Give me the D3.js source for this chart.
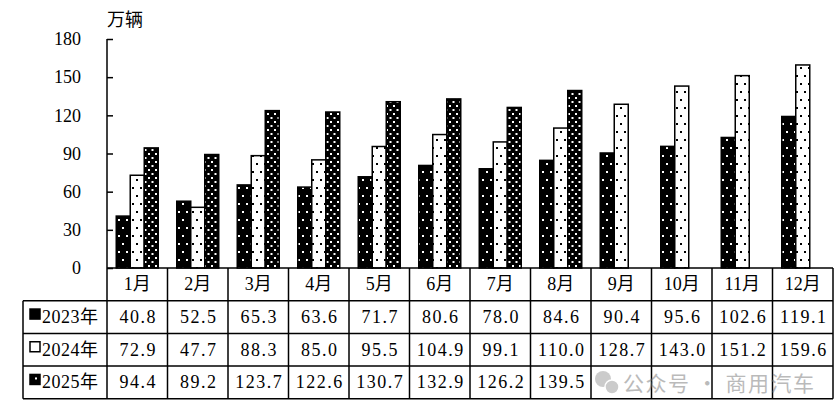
<!DOCTYPE html>
<html>
<head>
<meta charset="utf-8">
<script src="https://cdn.jsdelivr.net/npm/d3@7"></script>
<style>
  body { margin: 0; background: #fff; }
  svg text { font-family: "Liberation Serif", "Noto Sans CJK SC", serif; fill: #000; }
</style>
</head>
<body>
<div class="chart"></div>
<script>
const months = ["1月","2月","3月","4月","5月","6月","7月","8月","9月","10月","11月","12月"];
const seriesNames = ["2023年","2024年","2025年"];
const v2023 = [40.8,52.5,65.3,63.6,71.7,80.6,78.0,84.6,90.4,95.6,102.6,119.1];
const v2024 = [72.9,47.7,88.3,85.0,95.5,104.9,99.1,110.0,128.7,143.0,151.2,159.6];
const v2025 = [94.4,89.2,123.7,122.6,130.7,132.9,126.2,139.5];
const yTicks = [0,30,60,90,120,150,180];
const unitLabel = "万辆";
const watermark = "公众号 · 商用汽车";

const series = [v2023, v2024, v2025];
const fills = ["url(#p2023)", "url(#p2024)", "url(#p2025)"];

const W = 838, H = 418;
const plotLeft = 107, plotRight = 833, plotTop = 39, plotBottom = 268;
const rowH = 32.7;

const svg = d3.select(".chart").append("svg")
    .attr("width", W).attr("height", H);

// patterns
const defs = svg.append("defs");
function dotPattern(id, w, h, bg, fg, dots) {
  const p = defs.append("pattern").attr("id", id)
      .attr("patternUnits", "userSpaceOnUse")
      .attr("width", w).attr("height", h);
  p.append("rect").attr("width", w).attr("height", h).attr("fill", bg);
  dots.forEach(d => p.append("rect").attr("x", d[0]).attr("y", d[1])
      .attr("width", 2).attr("height", 2).attr("fill", fg));
}
dotPattern("p2023", 8, 16, "#000", "#fff", [[2,3],[6,11]]);
dotPattern("p2024", 8, 16, "#fff", "#000", [[0,3],[4,11]]);
dotPattern("p2025", 7, 8, "#000", "#fff", [[1,1],[4.5,5]]);

const x = d3.scaleBand().domain(months).range([plotLeft, plotRight]);
const xs = d3.scaleBand().domain([0,1,2]).range([0, 42]);
const y = d3.scaleLinear().domain([0, 180]).range([plotBottom, plotTop]);

// y axis
const yAxis = d3.axisLeft(y).tickValues(yTicks).tickSize(-6).tickPadding(26);
const ya = svg.append("g").attr("transform", "translate(" + plotLeft + ",0)").call(yAxis);
ya.select(".domain").attr("stroke", "#000").attr("stroke-width", 1.5).attr("d", "M0," + plotTop + "V" + plotBottom);
ya.selectAll(".tick line").attr("stroke", "#000").attr("stroke-width", 1.5);
ya.selectAll(".tick text").attr("font-size", 18)
    .style("font-family", "'Liberation Serif', serif");

svg.append("text").attr("x", plotLeft).attr("y", 26)
    .attr("font-size", 18).text(unitLabel);

// bars
series.forEach((vals, si) => {
  svg.append("g").selectAll("rect")
    .data(vals)
    .enter().append("rect")
      .attr("x", (d, i) => x(months[i]) + (x.bandwidth() - 42) / 2 + xs(si))
      .attr("y", d => y(d))
      .attr("width", xs.bandwidth())
      .attr("height", d => plotBottom - y(d))
      .attr("fill", fills[si])
      .attr("stroke", "#000")
      .attr("stroke-width", 1.5);
});

// table
const tbl = svg.append("g").attr("stroke", "#000").attr("stroke-width", 1.5).attr("fill", "none");
const tableBottom = plotBottom + rowH * 4;
tbl.append("line").attr("x1", plotLeft).attr("x2", plotRight).attr("y1", plotBottom).attr("y2", plotBottom);
for (let r = 1; r <= 4; r++) {
  tbl.append("line").attr("x1", 23).attr("x2", plotRight)
      .attr("y1", plotBottom + rowH * r).attr("y2", plotBottom + rowH * r);
}
tbl.append("line").attr("x1", 23).attr("x2", 23).attr("y1", plotBottom + rowH).attr("y2", tableBottom);
months.forEach(m => {
  tbl.append("line").attr("x1", x(m)).attr("x2", x(m)).attr("y1", plotBottom).attr("y2", tableBottom);
});
tbl.append("line").attr("x1", plotRight).attr("x2", plotRight).attr("y1", plotBottom).attr("y2", tableBottom);

// header months
svg.append("g").selectAll("text").data(months).enter().append("text")
    .attr("x", d => x(d) + x.bandwidth() / 2)
    .attr("y", plotBottom + rowH / 2 + 6)
    .attr("text-anchor", "middle").attr("font-size", 18)
    .text(d => d);

// rows
series.forEach((vals, si) => {
  const cy = plotBottom + rowH * (si + 1) + rowH / 2;
  const g = svg.append("g");
  g.append("rect").attr("x", 30).attr("y", cy - 8).attr("width", 10).attr("height", 10)
      .attr("fill", si === 1 ? "#fff" : "#000").attr("stroke", "#000").attr("stroke-width", 1.5);
  if (si === 2) g.append("rect").attr("x", 35).attr("y", cy - 5).attr("width", 2).attr("height", 2).attr("fill", "#fff");
  g.append("text").attr("x", 42).attr("y", cy + 6).attr("font-size", 18)
      .attr("letter-spacing", 0.5).text(seriesNames[si]);
  g.selectAll(".val").data(vals).enter().append("text")
      .attr("x", (d, i) => x(months[i]) + x.bandwidth() / 2 + 1)
      .attr("y", cy + 6)
      .attr("text-anchor", "middle").attr("font-size", 18)
      .attr("letter-spacing", 1.5)
      .text(d => d3.format(".1f")(d));
});

// watermark
const wm = svg.append("g").attr("opacity", 0.5);
wm.append("circle").attr("cx", 603).attr("cy", 379).attr("r", 8).attr("fill", "#999");
wm.append("circle").attr("cx", 612).attr("cy", 387).attr("r", 7).attr("fill", "#999").attr("stroke", "#fff").attr("stroke-width", 1.5);
wm.append("text").attr("x", 623).attr("y", 391).attr("font-size", 21)
    .attr("letter-spacing", 1.5)
    .style("font-family", "'Noto Sans CJK SC', sans-serif").style("fill", "#777")
    .text(watermark);
</script>
</body>
</html>
